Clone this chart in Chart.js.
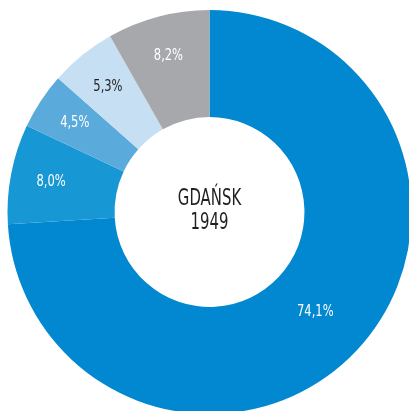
<!DOCTYPE html>
<html>
<head>
<meta charset="utf-8">
<script src="https://cdn.jsdelivr.net/npm/chart.js@4.4.1/dist/chart.umd.min.js"></script>
<style>
  html, body { margin: 0; padding: 0; background: #fff; overflow: hidden; }
  #wrap { position: absolute; left: 0; top: 0; width: 419px; height: 424px; }
</style>
</head>
<body>
<div id="wrap"><canvas id="chart1" width="419" height="424"></canvas></div>
<script>
const categories = ['A', 'B', 'C', 'D', 'E'];
const shares = [74.1, 8.0, 4.5, 5.3, 8.2];
const shareLabels = ['74,1%', '8,0%', '4,5%', '5,3%', '8,2%'];
const centerLines = ['GDAŃSK', '1949'];

const colors = ['#0288D0', '#1897D5', '#5AAADC', '#C6DFF2', '#A7A8AB'];
const labelColors = ['#ffffff', '#ffffff', '#ffffff', '#231F20', '#ffffff'];
const FONT = '"Liberation Sans Narrow", "DejaVu Sans Condensed", sans-serif';

// condensed text: squeeze horizontally
function narrowText(ctx, text, x, y, sx) {
    ctx.save();
    ctx.translate(x, y);
    ctx.scale(sx, 1);
    ctx.fillText(text, 0, 0);
    ctx.restore();
}

// labels in the ring + text in the hole
const labelPlugin = {
    id: 'labelPlugin',
    afterDatasetsDraw(chart) {
        const ctx = chart.ctx;
        const meta = chart.getDatasetMeta(0);
        ctx.save();
        ctx.textAlign = 'center';
        ctx.textBaseline = 'middle';
        ctx.font = '16px ' + FONT;
        meta.data.forEach((arc, i) => {
            const p = arc.getProps(['x', 'y', 'startAngle', 'endAngle', 'innerRadius', 'outerRadius'], true);
            const mid = (p.startAngle + p.endAngle) / 2;
            const f = shares[i] > 50 ? 0.47 : 0.62;
            const r = p.innerRadius + (p.outerRadius - p.innerRadius) * f;
            ctx.fillStyle = labelColors[i];
            narrowText(ctx, shareLabels[i], p.x + Math.cos(mid) * r, p.y + Math.sin(mid) * r, 0.8);
        });
        const c = meta.data[0];
        ctx.fillStyle = '#231F20';
        ctx.font = '23px ' + FONT;
        narrowText(ctx, centerLines[0], c.x, c.y - 13, 0.72);
        narrowText(ctx, centerLines[1], c.x, c.y + 11, 0.72);
        ctx.restore();
    }
};

const ctx = document.getElementById('chart1').getContext('2d');
const myChart = new Chart(ctx, {
    type: 'doughnut',
    data: {
        labels: categories,
        datasets: [{
            data: shares,
            backgroundColor: colors,
            borderWidth: 0
        }]
    },
    options: {
        responsive: false,
        animation: false,
        cutout: '47%',
        layout: { padding: { left: 7.5, right: 7.5, top: 10, bottom: 10 } },
        plugins: {
            legend: { display: false },
            tooltip: { enabled: false }
        }
    },
    plugins: [labelPlugin]
});
</script>
</body>
</html>
